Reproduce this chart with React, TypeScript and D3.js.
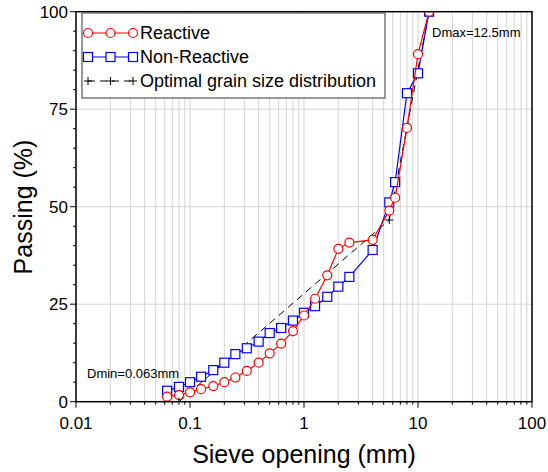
import { line, range, scaleLinear, scaleLog } from "d3";

// sieve openings (mm) shared by both aggregates
const sieveSizes = [
  0.063, 0.08, 0.1, 0.125, 0.16, 0.2, 0.25, 0.315, 0.4, 0.5, 0.63, 0.8, 1,
  1.25, 1.6, 2, 2.5, 4, 5.6, 6.3, 8, 10, 12.5,
];
const reactivePassing = [
  1.3, 1.7, 2.4, 3.2, 4.0, 5.0, 6.2, 7.9, 10.0, 12.4, 14.9, 18.1, 22.1, 26.4,
  32.4, 39.2, 40.8, 41.5, 49.0, 52.3, 70.2, 89.1, 100,
];
const nonReactivePassing = [
  2.8, 3.8, 5.0, 6.4, 8.1, 10.0, 12.2, 13.7, 15.4, 17.6, 18.9, 20.8, 22.8,
  24.5, 26.9, 29.5, 32.0, 38.9, 51.1, 56.3, 79.1, 84.2, 100,
];
const optimalSizes = [0.08, 5.6, 12.5];
const optimalPassing = [0, 46.6, 100];

const xTicks = [0.01, 0.1, 1, 10, 100];
const xTickLabels = ["0.01", "0.1", "1", "10", "100"];
const yTicks = [0, 25, 50, 75, 100];

const seriesNames = ["Reactive", "Non-Reactive", "Optimal grain size distribution"];

const FONT = "'Liberation Sans', Arial, sans-serif";

type Pt = [number, number];

function Marker({ kind, cx, cy, color }: { kind: string; cx: number; cy: number; color: string }) {
  if (kind === "circle") {
    return <circle cx={cx} cy={cy} r={4.5} fill="white" stroke={color} strokeWidth={1.2} />;
  }
  if (kind === "square") {
    return <rect x={cx - 4.5} y={cy - 4.5} width={9} height={9} fill="white" stroke={color} strokeWidth={1.2} />;
  }
  return (
    <path d={`M${cx - 4},${cy}H${cx + 4}M${cx},${cy - 4}V${cy + 4}`} stroke={color} strokeWidth={1} />
  );
}

export default function App() {
  const width = 548;
  const height = 472;
  const plot = { left: 76, right: 532, top: 11.7, bottom: 401.7 };

  const x = scaleLog().domain([0.01, 100]).range([plot.left, plot.right]);
  const y = scaleLinear().domain([0, 100]).range([plot.bottom, plot.top]);

  const minorX: number[] = [];
  for (let k = -2; k <= 1; k++) {
    for (let m = 1; m <= 9; m++) minorX.push(m * Math.pow(10, k));
  }
  minorX.push(100);
  const minorY = range(0, 101, 5);

  const path = line<Pt>()
    .x((d) => x(d[0]))
    .y((d) => y(d[1]));

  const reactive: Pt[] = sieveSizes.map((s, i) => [s, reactivePassing[i]]);
  const nonReactive: Pt[] = sieveSizes.map((s, i) => [s, nonReactivePassing[i]]);
  const optimal: Pt[] = optimalSizes.map((s, i) => [s, optimalPassing[i]]);

  const legend = { x: 82, y: 13, w: 303, h: 85 };
  const legendRows = [
    { name: seriesNames[0], color: "#ff0000", kind: "circle", dash: undefined },
    { name: seriesNames[1], color: "#0000ff", kind: "square", dash: undefined },
    { name: seriesNames[2], color: "#000000", kind: "plus", dash: "7,5" },
  ];

  return (
    <svg
      width={width}
      height={height}
      viewBox={`0 0 ${width} ${height}`}
      style={{ position: "absolute", left: 0, top: 0, background: "white" }}
      fontFamily={FONT}
    >
      <defs>
        <clipPath id="plot-clip">
          <rect x={plot.left} y={plot.top} width={plot.right - plot.left} height={plot.bottom - plot.top} />
        </clipPath>
      </defs>

      {/* grid */}
      <g stroke="#d4d4d4" strokeWidth={1}>
        {minorX.map((v) => (
          <line key={`gx-${v}`} x1={x(v)} x2={x(v)} y1={plot.top} y2={plot.bottom} />
        ))}
        {[25, 50, 75].map((v) => (
          <line key={`gy-${v}`} x1={plot.left} x2={plot.right} y1={y(v)} y2={y(v)} />
        ))}
      </g>

      {/* series */}
      <g clipPath="url(#plot-clip)">
        <path d={path(optimal) ?? ""} fill="none" stroke="#000" strokeWidth={1} strokeDasharray="7,5" />
        <path d={path(nonReactive) ?? ""} fill="none" stroke="#0000ff" strokeWidth={1.2} />
        {nonReactive.map((d, i) => (
          <Marker key={`nr-${i}`} kind="square" cx={x(d[0])} cy={y(d[1])} color="#0000ff" />
        ))}
        <path d={path(reactive) ?? ""} fill="none" stroke="#ff0000" strokeWidth={1.2} />
        {reactive.map((d, i) => (
          <Marker key={`r-${i}`} kind="circle" cx={x(d[0])} cy={y(d[1])} color="#ff0000" />
        ))}
        {optimal.slice(0, 2).map((d, i) => (
          <Marker key={`o-${i}`} kind="plus" cx={x(d[0])} cy={y(d[1])} color="#000" />
        ))}
      </g>

      {/* frame */}
      <rect
        x={plot.left}
        y={plot.top}
        width={plot.right - plot.left}
        height={plot.bottom - plot.top}
        fill="none"
        stroke="#000"
        strokeWidth={1.5}
      />

      {/* ticks */}
      <g stroke="#000" strokeWidth={1}>
        {minorX.map((v) => (
          <line key={`tx-${v}`} x1={x(v)} x2={x(v)} y1={plot.bottom} y2={plot.bottom + (xTicks.includes(v) ? 6 : 3)} />
        ))}
        {minorY.map((v) => (
          <line key={`ty-${v}`} x1={plot.left} x2={plot.left - (yTicks.includes(v) ? 6 : 3)} y1={y(v)} y2={y(v)} />
        ))}
      </g>
      <g fontSize={17} fill="#000">
        {xTicks.map((v, i) => (
          <text key={`xl-${v}`} x={x(v)} y={429} textAnchor="middle">
            {xTickLabels[i]}
          </text>
        ))}
        {yTicks.map((v) => (
          <text key={`yl-${v}`} x={68} y={y(v)} dy="0.35em" textAnchor="end">
            {v}
          </text>
        ))}
      </g>

      {/* axis titles */}
      <text x={304} y={463} fontSize={25} textAnchor="middle">
        Sieve opening (mm)
      </text>
      <text transform="translate(32,207) rotate(-90)" fontSize={25} textAnchor="middle">
        Passing (%)
      </text>

      {/* annotations */}
      <text x={87} y={377.5} fontSize={13}>
        Dmin=0.063mm
      </text>
      <text x={432} y={36.5} fontSize={13}>
        Dmax=12.5mm
      </text>

      {/* legend */}
      <rect x={legend.x} y={legend.y} width={legend.w} height={legend.h} fill="white" stroke="#555" strokeWidth={1.2} />
      {legendRows.map((row, i) => {
        const ly = 33 + i * 24;
        return (
          <g key={row.name}>
            <line x1={88} x2={133} y1={ly} y2={ly} stroke={row.color} strokeWidth={1.2} strokeDasharray={row.dash} />
            {[88, 110.5, 133].map((mx) => (
              <Marker key={mx} kind={row.kind} cx={mx} cy={ly} color={row.color} />
            ))}
            <text x={140} y={ly} dy="0.35em" fontSize={18}>
              {row.name}
            </text>
          </g>
        );
      })}
    </svg>
  );
}
